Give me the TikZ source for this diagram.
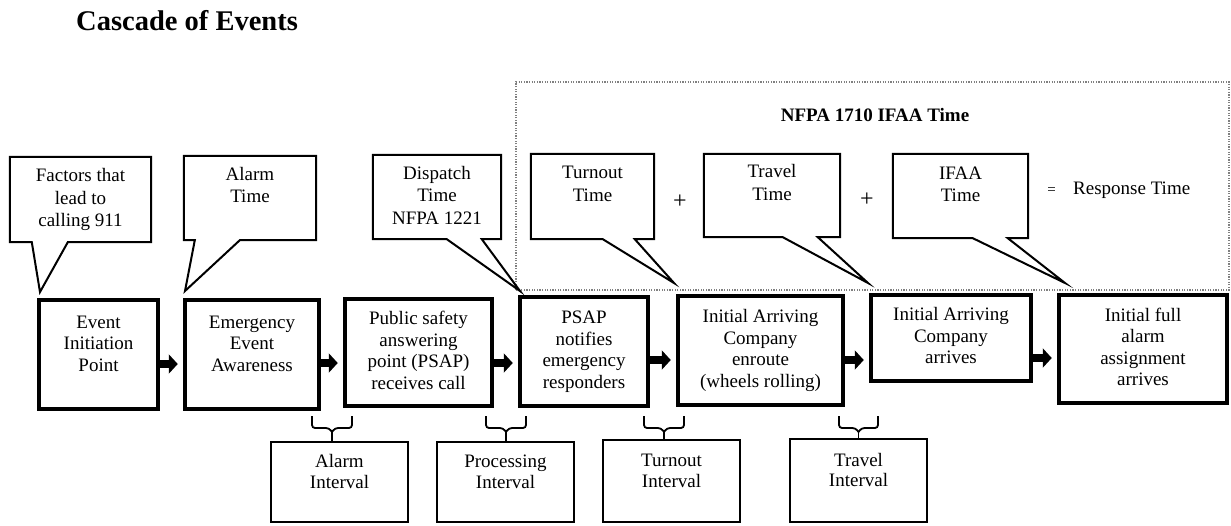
\documentclass[tikz,border=0pt]{standalone}
\usepackage{fontspec}
\setmainfont{Liberation Serif}
\usetikzlibrary{arrows.meta}
\newcommand\liftup[2]{\raisebox{#1}[\height][\depth]{\begin{tabular}{@{}c@{}}#2\end{tabular}}}
\begin{document}
\begin{tikzpicture}[x=1pt,y=-1pt,
  mainbox/.style={draw, line width=4.5pt, inner sep=0pt, font=\fontsize{19}{21.5}\selectfont},
  callout/.style={inner sep=0pt, font=\fontsize{19}{22.5}\selectfont},
  balloon/.style={draw, line width=2pt, line join=miter},
  intbox/.style={draw, line width=1.8pt, inner sep=0pt, minimum width=137pt, font=\fontsize{19}{20.5}\selectfont},
  brk/.style={line width=1.8pt, rounded corners=3pt},
  blockarrow/.style={line width=8pt, -{Triangle[length=9pt,width=19pt]}, shorten >=5pt},
  frame/.style={draw=gray, line width=1.2pt, dash pattern=on 1.2pt off 1.4pt},
  plain/.style={inner sep=0pt, font=\fontsize{19}{22}\selectfont}]
\useasboundingbox (0,0) rectangle (1231,525);

% title
\node[anchor=west, inner sep=0pt, font=\fontsize{28.5}{30}\selectfont\bfseries] (ttl) at (76,21) {Cascade of Events};

% dotted frame
\draw[frame] (516,290) -- (516,82) -- (1229,82) -- (1229,290) -- cycle;
\node[plain, font=\fontsize{19}{22}\selectfont\bfseries] (nfpa) at (875,115) {NFPA 1710 IFAA Time};

% main boxes
\node[mainbox, minimum width=119pt, minimum height=109pt] (b1) at (98.5,354.5) {\liftup{9pt}{Event\\Initiation\\Point}};
\node[mainbox, minimum width=134pt, minimum height=109pt] (b2) at (252,354.5) {\liftup{9pt}{Emergency\\Event\\Awareness}};
\node[mainbox, minimum width=147pt, minimum height=107pt] (b3) at (418.5,352.5) {\liftup{0pt}{Public safety\\answering\\point (PSAP)\\receives call}};
\node[mainbox, minimum width=128pt, minimum height=109pt] (b4) at (584,351.5) {\liftup{0pt}{PSAP\\notifies\\emergency\\responders}};
\node[mainbox, minimum width=165pt, minimum height=109pt] (b5) at (760.5,350.5) {\liftup{0pt}{Initial Arriving\\Company\\enroute\\(wheels rolling)}};
\node[mainbox, minimum width=160pt, minimum height=86pt] (b6) at (951,338) {\liftup{0pt}{Initial Arriving\\Company\\arrives}};
\node[mainbox, minimum width=168pt, minimum height=108pt] (b7) at (1143,349) {\liftup{0pt}{Initial full\\alarm\\assignment\\arrives}};

% arrows between main boxes
\coordinate (a12) at (0,364);
\coordinate (a23) at (0,363);
\coordinate (a34) at (0,363);
\coordinate (a45) at (0,360);
\coordinate (a56) at (0,360);
\coordinate (a67) at (0,358);
\draw[blockarrow] (b1.east |- a12) -- (b2.west |- a12);
\draw[blockarrow] (b2.east |- a23) -- (b3.west |- a23);
\draw[blockarrow] (b3.east |- a34) -- (b4.west |- a34);
\draw[blockarrow] (b4.east |- a45) -- (b5.west |- a45);
\draw[blockarrow] (b5.east |- a56) -- (b6.west |- a56);
\draw[blockarrow] (b6.east |- a67) -- (b7.west |- a67);

% callouts
\node[callout, minimum width=141pt, minimum height=85pt] (c1) at (80.5,199.5) {\liftup{0pt}{Factors that\\lead to\\calling 911}};
\node[callout, minimum width=132pt, minimum height=84pt] (c2) at (250,198) {\liftup{11pt}{Alarm\\Time}};
\node[callout, minimum width=128pt, minimum height=84pt] (c3) at (437,197) {\liftup{0pt}{Dispatch\\Time\\NFPA 1221}};
\node[callout, minimum width=123pt, minimum height=85pt] (c4) at (592.5,196.5) {\liftup{11pt}{Turnout\\Time}};
\node[callout, minimum width=136pt, minimum height=83pt] (c5) at (772,195.5) {\liftup{11pt}{Travel\\Time}};
\node[callout, minimum width=135pt, minimum height=84pt] (c6) at (960.5,196) {\liftup{10pt}{IFAA\\Time}};
\coordinate (p1) at (40,292);
\coordinate (p2) at (185,291);
\coordinate (p3) at (520,291);
\coordinate (p4) at (674,283);
\coordinate (p5) at (868,283);
\coordinate (p6) at (1065,283);
\draw[balloon] (c1.south west) -- (c1.north west) -- (c1.north east) -- (c1.south east) -- ([xshift=58pt]c1.south west) -- (p1) -- ([xshift=22pt]c1.south west) -- cycle;
\draw[balloon] (c2.south west) -- (c2.north west) -- (c2.north east) -- (c2.south east) -- ([xshift=56pt]c2.south west) -- (p2) -- ([xshift=11pt]c2.south west) -- cycle;
\draw[balloon] (c3.south west) -- (c3.north west) -- (c3.north east) -- (c3.south east) -- ([xshift=109pt]c3.south west) -- (p3) -- ([xshift=74pt]c3.south west) -- cycle;
\draw[balloon] (c4.south west) -- (c4.north west) -- (c4.north east) -- (c4.south east) -- ([xshift=104pt]c4.south west) -- (p4) -- ([xshift=72pt]c4.south west) -- cycle;
\draw[balloon] (c5.south west) -- (c5.north west) -- (c5.north east) -- (c5.south east) -- ([xshift=114pt]c5.south west) -- (p5) -- ([xshift=79pt]c5.south west) -- cycle;
\draw[balloon] (c6.south west) -- (c6.north west) -- (c6.north east) -- (c6.south east) -- ([xshift=115pt]c6.south west) -- (p6) -- ([xshift=80pt]c6.south west) -- cycle;

% plus / equals / response time
\node[plain, font=\fontsize{24}{24}\selectfont] (plus1) at (680,202) {+};
\node[plain, font=\fontsize{24}{24}\selectfont] (plus2) at (867,200) {+};
\node[plain, font=\fontsize{15}{15}\selectfont] (eq) at (1051.5,191) {=};
\node[plain, anchor=west] (resp) at (1073,190) {Response Time};

% interval boxes
\node[intbox, minimum height=80pt] (i1) at (339.5,482) {\liftup{8pt}{Alarm\\Interval}};
\node[intbox, minimum height=80pt] (i2) at (505.5,482) {\liftup{8pt}{Processing\\Interval}};
\node[intbox, minimum height=82pt] (i3) at (671.5,481) {\liftup{8pt}{Turnout\\Interval}};
\node[intbox, minimum height=83pt] (i4) at (858.5,480.5) {\liftup{8pt}{Travel\\Interval}};

% brackets
\coordinate (k1) at (332,432);
\coordinate (k2) at (506,432);
\coordinate (k3) at (664,432);
\coordinate (k4) at (858.5,432);
\draw[brk] (312,416) -- (312,428) -- (329,428) -- (k1);
\draw[brk] (352,416) -- (352,428) -- (335,428) -- (k1);
\draw[line width=1.8pt] (k1) -- (k1 |- i1.north);
\draw[brk] (486,416) -- (486,428) -- (503,428) -- (k2);
\draw[brk] (526,416) -- (526,428) -- (509,428) -- (k2);
\draw[line width=1.8pt] (k2) -- (k2 |- i2.north);
\draw[brk] (644,416) -- (644,428) -- (661,428) -- (k3);
\draw[brk] (684,416) -- (684,428) -- (667,428) -- (k3);
\draw[line width=1.8pt] (k3) -- (k3 |- i3.north);
\draw[brk] (839,416) -- (839,428) -- (855.5,428) -- (k4);
\draw[brk] (878,416) -- (878,428) -- (861.5,428) -- (k4);
\draw[line width=1.8pt] (k4) -- (k4 |- i4.north);
\end{tikzpicture}
\end{document}
